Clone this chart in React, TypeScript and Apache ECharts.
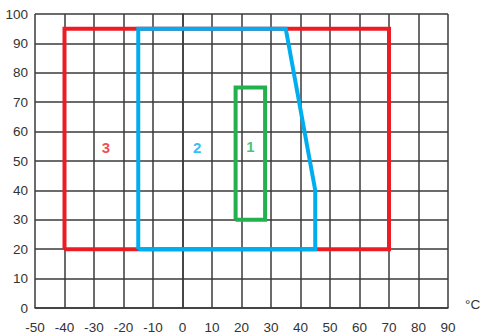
import React, { useEffect, useRef } from "react";
import * as echarts from "echarts";

const xTicks = { min: -50, max: 90, interval: 10 };
const yTicks = { min: 0, max: 100, interval: 10 };

const zone3: [number, number][] = [[-40, 20], [-40, 95], [70, 95], [70, 20], [-40, 20]];
const zone2: [number, number][] = [[-15, 20], [-15, 95], [35, 95], [45, 40], [45, 20], [-15, 20]];
const zone1: [number, number][] = [[18, 30], [18, 75], [28, 75], [28, 30], [18, 30]];

const zoneNames = ["3", "2", "1"];
const zoneLabelPos: [number, number][] = [[-26, 54.5], [5, 54.5], [23, 55]];
const zoneColors = ["#ed1c24", "#00aeef", "#22b14c"];
const unitLabel = "°C";

export default function App() {
  const ref = useRef<HTMLDivElement>(null);
  useEffect(() => {
    document.body.style.margin = "0";
    if (!ref.current) return;
    const chart = echarts.init(ref.current, null, { renderer: "svg" });
    const zones = [zone3, zone2, zone1];
    const lineSeries = zones.map((z, i) => ({
      type: "line",
      data: z,
      symbol: "none",
      lineStyle: { color: zoneColors[i], width: 4, join: "miter" },
      z: 3 + i,
    }));
    const labelSeries = zoneNames.map((n, i) => ({
      type: "scatter",
      data: [zoneLabelPos[i]],
      symbolSize: 0,
      z: 10,
      label: {
        show: true,
        position: "inside",
        formatter: n,
        color: zoneColors[i],
        fontSize: 15,
        fontWeight: "bold",
        fontFamily: "Liberation Sans, Arial, sans-serif",
      },
    }));
    const lineStyle = { color: "#3a3a3a", width: 1.5 };
    chart.setOption({
      animation: false,
      grid: { left: 35, right: 35, top: 14, bottom: 26, containLabel: false },
      xAxis: {
        type: "value",
        min: xTicks.min,
        max: xTicks.max,
        interval: xTicks.interval,
        axisLine: { show: true, lineStyle },
        axisTick: { show: false },
        splitLine: { show: true, lineStyle },
        axisLabel: {
          color: "#333",
          fontSize: 13.5,
          margin: 12,
          fontFamily: "Liberation Sans, Arial, sans-serif",
          showMinLabel: true,
          showMaxLabel: true,
        },
      },
      yAxis: {
        type: "value",
        min: yTicks.min,
        max: yTicks.max,
        interval: yTicks.interval,
        axisLine: { show: true, lineStyle },
        axisTick: { show: false },
        splitLine: { show: true, lineStyle },
        axisLabel: {
          color: "#333",
          fontSize: 13.5,
          margin: 7,
          fontFamily: "Liberation Sans, Arial, sans-serif",
        },
      },
      graphic: [
        {
          type: "text",
          left: 465,
          top: 297,
          style: {
            text: unitLabel,
            fill: "#333",
            fontSize: 13.5,
            fontFamily: "Liberation Sans, Arial, sans-serif",
          },
        },
      ],
      series: [...lineSeries, ...labelSeries],
    });
    return () => chart.dispose();
  }, []);
  return <div ref={ref} style={{ width: 483, height: 334 }} />;
}
